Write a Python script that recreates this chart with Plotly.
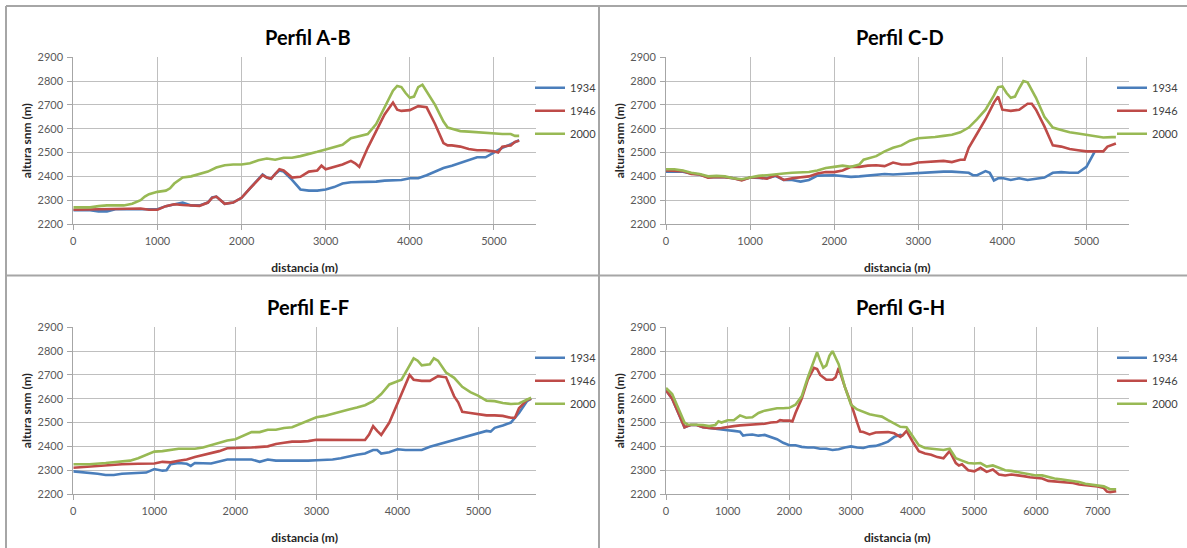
import plotly.graph_objects as go

# ---------------- data (distance m, altitude m) ----------------
SERIES_NAMES = ["1934", "1946", "2000"]
PANEL_TITLES = ["Perfil A-B", "Perfil C-D", "Perfil E-F", "Perfil G-H"]
X_MAX = [5500, 5500, 5710, 7500]
Y_TICKS = [2200, 2300, 2400, 2500, 2600, 2700, 2800, 2900]

AB_1934 = [(0,2258),(200,2258),(300,2253),(400,2253),(500,2262),(1000,2262),(1100,2275),(1200,2283),(1300,2290),(1400,2278),(1500,2278),(1600,2290),(1650,2312),(1700,2315),(1750,2300),(1800,2285),(1900,2290),(2000,2310),(2100,2350),(2200,2390),(2250,2408),(2300,2395),(2350,2390),(2400,2410),(2450,2425),(2500,2420),(2600,2385),(2700,2345),(2800,2340),(2900,2340),(3000,2345),(3100,2355),(3200,2370),(3300,2375),(3400,2375),(3500,2375),(3600,2378),(3700,2382),(3800,2383),(3900,2385),(4000,2392),(4100,2392),(4200,2405),(4300,2420),(4400,2435),(4500,2445),(4600,2457),(4700,2468),(4800,2480),(4900,2480),(5000,2500),(5100,2520),(5200,2535),(5300,2552)]
AB_1946 = [(0,2260),(500,2262),(800,2265),(900,2260),(1000,2260),(1100,2275),(1200,2283),(1300,2280),(1400,2277),(1500,2276),(1600,2290),(1650,2310),(1700,2315),(1750,2300),(1800,2285),(1900,2290),(2000,2310),(2100,2350),(2200,2385),(2250,2405),(2300,2395),(2350,2390),(2400,2410),(2450,2430),(2500,2425),(2600,2395),(2700,2398),(2800,2420),(2900,2425),(2950,2445),(3000,2430),(3100,2440),(3200,2450),(3300,2465),(3350,2455),(3400,2440),(3500,2520),(3600,2590),(3700,2660),(3800,2710),(3850,2680),(3900,2675),(4000,2678),(4100,2695),(4200,2690),(4300,2620),(4400,2540),(4450,2530),(4500,2530),(4600,2525),(4700,2515),(4800,2510),(4900,2510),(5000,2505),(5050,2500),(5100,2525),(5200,2530),(5250,2545),(5300,2550)]
AB_2000 = [(0,2270),(200,2270),(300,2275),(400,2278),(600,2278),(700,2285),(800,2300),(850,2315),(900,2325),(1000,2335),(1100,2340),(1150,2350),(1200,2370),(1300,2395),(1400,2400),(1500,2410),(1600,2420),(1700,2437),(1800,2447),(1900,2450),(2000,2450),(2100,2455),(2200,2468),(2300,2475),(2400,2470),(2500,2478),(2600,2478),(2700,2485),(2800,2493),(2900,2503),(3000,2513),(3100,2522),(3200,2533),(3300,2560),(3400,2570),(3500,2578),(3600,2620),(3700,2690),(3800,2760),(3850,2780),(3900,2775),(3950,2750),(4000,2730),(4050,2735),(4100,2775),(4150,2785),(4200,2755),(4300,2700),(4400,2630),(4450,2605),(4500,2600),(4600,2590),(4700,2588),(4800,2585),(4900,2582),(5000,2580),(5100,2578),(5200,2578),(5250,2570),(5300,2570)]

CD_1934 = [(0,2420),(200,2420),(300,2412),(400,2408),(500,2396),(600,2398),(700,2397),(800,2392),(900,2385),(1000,2395),(1100,2395),(1200,2392),(1300,2402),(1400,2385),(1500,2385),(1600,2378),(1700,2385),(1800,2403),(2000,2405),(2100,2400),(2200,2398),(2300,2400),(2400,2403),(2500,2408),(2600,2410),(2700,2408),(2800,2410),(2900,2415),(3000,2415),(3100,2418),(3200,2418),(3300,2420),(3400,2420),(3500,2418),(3600,2415),(3650,2405),(3700,2405),(3800,2422),(3850,2415),(3900,2383),(3950,2392),(4000,2393),(4100,2385),(4200,2392),(4300,2385),(4400,2390),(4500,2395),(4600,2415),(4700,2418),(4800,2415),(4900,2415),(5000,2440),(5050,2475),(5100,2505)]
CD_1946 = [(0,2425),(200,2422),(300,2410),(400,2408),(500,2395),(600,2398),(700,2397),(800,2392),(900,2383),(1000,2395),(1100,2395),(1200,2390),(1300,2405),(1400,2385),(1500,2392),(1600,2395),(1700,2400),(1800,2412),(1900,2418),(2000,2418),(2100,2425),(2200,2440),(2300,2440),(2400,2445),(2500,2447),(2600,2443),(2700,2458),(2800,2450),(2900,2450),(3000,2458),(3100,2460),(3200,2465),(3300,2465),(3400,2460),(3500,2470),(3550,2470),(3600,2520),(3700,2580),(3800,2640),(3900,2710),(3950,2735),(4000,2680),(4100,2675),(4200,2680),(4300,2705),(4350,2705),(4400,2680),(4500,2610),(4600,2530),(4700,2525),(4800,2515),(4900,2510),(5000,2505),(5100,2505),(5200,2505),(5250,2525),(5350,2538)]
CD_2000 = [(0,2430),(100,2430),(200,2425),(300,2415),(400,2410),(500,2400),(600,2402),(700,2400),(800,2392),(900,2388),(1000,2395),(1100,2402),(1200,2405),(1300,2410),(1400,2412),(1500,2415),(1600,2416),(1700,2418),(1800,2425),(1900,2435),(2000,2440),(2100,2445),(2200,2440),(2300,2450),(2350,2470),(2400,2475),(2500,2485),(2600,2505),(2700,2520),(2800,2530),(2900,2550),(3000,2560),(3100,2562),(3200,2565),(3300,2570),(3400,2575),(3500,2585),(3600,2605),(3700,2640),(3800,2680),(3900,2740),(3950,2775),(4000,2778),(4050,2750),(4100,2730),(4150,2735),(4200,2770),(4250,2800),(4300,2795),(4400,2730),(4500,2650),(4600,2605),(4700,2595),(4800,2585),(4900,2580),(5000,2575),(5100,2570),(5200,2563),(5300,2565),(5350,2565)]

EF_1934 = [(0,2295),(200,2290),(300,2285),(400,2280),(500,2280),(600,2285),(700,2287),(800,2287),(900,2290),(1000,2305),(1100,2298),(1150,2300),(1200,2325),(1300,2330),(1400,2327),(1450,2318),(1500,2330),(1700,2328),(1800,2335),(1900,2345),(2000,2345),(2200,2345),(2300,2335),(2400,2345),(2500,2340),(2600,2340),(2700,2338),(2800,2340),(2900,2340),(3000,2342),(3200,2345),(3300,2350),(3400,2358),(3500,2365),(3600,2370),(3700,2385),(3750,2385),(3800,2370),(3900,2375),(4000,2388),(4100,2385),(4200,2385),(4300,2385),(4400,2398),(4500,2408),(4600,2418),(4700,2428),(4800,2438),(4900,2447),(5000,2457),(5100,2465),(5150,2462),(5200,2478),(5300,2488),(5400,2500),(5500,2540),(5600,2590),(5650,2600)]
EF_1946 = [(0,2310),(200,2315),(400,2320),(500,2325),(600,2325),(800,2327),(1000,2328),(1100,2335),(1200,2333),(1300,2340),(1400,2345),(1500,2355),(1600,2363),(1700,2372),(1800,2380),(1900,2392),(2000,2392),(2200,2395),(2400,2400),(2500,2410),(2600,2415),(2700,2420),(2800,2420),(2900,2422),(3000,2428),(3200,2428),(3300,2430),(3400,2427),(3600,2427),(3650,2450),(3700,2485),(3750,2465),(3800,2448),(3900,2500),(4000,2580),(4100,2660),(4150,2700),(4200,2680),(4300,2675),(4400,2675),(4500,2695),(4600,2690),(4700,2610),(4750,2585),(4800,2545),(4900,2540),(5000,2535),(5100,2530),(5200,2530),(5300,2528),(5400,2520),(5450,2520),(5500,2560),(5600,2595),(5650,2600)]
EF_2000 = [(0,2325),(200,2325),(400,2330),(600,2335),(700,2340),(800,2350),(900,2365),(1000,2378),(1100,2380),(1200,2385),(1300,2390),(1400,2390),(1500,2390),(1600,2395),(1700,2405),(1800,2415),(1900,2425),(2000,2430),(2100,2445),(2200,2460),(2300,2460),(2400,2470),(2500,2470),(2600,2477),(2700,2480),(2800,2495),(2900,2510),(3000,2522),(3100,2528),(3200,2538),(3300,2548),(3400,2555),(3500,2563),(3600,2573),(3700,2590),(3800,2620),(3900,2660),(4000,2675),(4050,2680),(4100,2710),(4200,2770),(4250,2760),(4300,2740),(4400,2745),(4450,2770),(4500,2760),(4600,2710),(4700,2688),(4800,2650),(4900,2628),(5000,2612),(5100,2592),(5200,2590),(5300,2582),(5400,2578),(5500,2580),(5600,2595),(5650,2605)]

GH_1934 = [(0,2635),(100,2600),(200,2540),(300,2480),(350,2485),(400,2490),(500,2490),(600,2480),(700,2477),(800,2475),(900,2472),(1000,2468),(1100,2465),(1200,2462),(1250,2445),(1300,2448),(1400,2450),(1500,2445),(1600,2448),(1700,2440),(1800,2430),(1900,2415),(2000,2405),(2100,2405),(2200,2398),(2300,2395),(2400,2395),(2500,2390),(2600,2390),(2700,2385),(2800,2388),(2900,2395),(3000,2400),(3100,2395),(3200,2393),(3300,2400),(3400,2402),(3500,2410),(3600,2420),(3700,2440),(3800,2448),(3850,2445)]
GH_1946 = [(0,2635),(100,2600),(200,2540),(300,2480),(350,2485),(400,2490),(500,2490),(600,2480),(700,2477),(800,2475),(900,2477),(1000,2482),(1100,2485),(1200,2488),(1300,2490),(1400,2490),(1500,2492),(1600,2495),(1700,2500),(1800,2502),(1850,2510),(1900,2508),(2000,2508),(2050,2505),(2100,2540),(2200,2600),(2300,2680),(2400,2730),(2450,2725),(2500,2700),(2600,2680),(2700,2680),(2750,2690),(2800,2730),(2900,2650),(3000,2580),(3100,2500),(3150,2462),(3200,2460),(3300,2450),(3400,2458),(3500,2460),(3600,2460),(3700,2455),(3800,2440),(3850,2450),(3900,2465),(4000,2420),(4100,2380),(4200,2370),(4300,2365),(4400,2355),(4500,2350),(4550,2365),(4600,2380),(4700,2330),(4750,2320),(4800,2325),(4900,2300),(5000,2295),(5100,2310),(5200,2293),(5300,2303),(5400,2282),(5500,2278),(5600,2282),(5700,2280),(5800,2275),(5900,2270),(6000,2268),(6100,2265),(6200,2255),(6300,2253),(6400,2250),(6500,2248),(6600,2246),(6700,2240),(6800,2237),(6900,2235),(7000,2232),(7100,2225),(7150,2210),(7200,2208),(7300,2212)]
GH_2000 = [(0,2645),(100,2620),(200,2560),(300,2500),(350,2492),(500,2492),(600,2490),(700,2485),(800,2490),(850,2505),(900,2500),(1000,2510),(1100,2510),(1200,2530),(1300,2520),(1400,2522),(1500,2540),(1600,2550),(1700,2555),(1800,2560),(1900,2560),(2000,2562),(2100,2575),(2200,2610),(2300,2690),(2400,2760),(2450,2795),(2500,2760),(2550,2730),(2600,2740),(2650,2780),(2700,2800),(2800,2745),(2900,2650),(3000,2575),(3100,2555),(3200,2545),(3300,2535),(3400,2530),(3500,2525),(3600,2510),(3700,2495),(3800,2482),(3900,2480),(4000,2440),(4100,2405),(4200,2393),(4300,2390),(4400,2388),(4500,2385),(4600,2390),(4700,2350),(4800,2340),(4900,2330),(5000,2328),(5100,2330),(5200,2315),(5300,2320),(5400,2310),(5500,2300),(5600,2297),(5700,2292),(5800,2285),(5900,2280),(6000,2278),(6100,2278),(6200,2270),(6300,2265),(6400,2262),(6500,2258),(6600,2256),(6700,2250),(6800,2243),(6900,2240),(7000,2237),(7100,2232),(7200,2220),(7300,2220)]

PANEL_DATA = [
    (AB_1934, AB_1946, AB_2000),
    (CD_1934, CD_1946, CD_2000),
    (EF_1934, EF_1946, EF_2000),
    (GH_1934, GH_1946, GH_2000),
]

# ---------------- styling / layout ----------------
W, H = 1187, 548
COLORS = ["#4A7EBB", "#BE4B48", "#98B954"]
FONT = "Lato, 'Open Sans', sans-serif"
GRID = "#BFBFBF"
AXLINE = "#A6A6A6"
TICKC = "#595959"

# plot-area pixel boxes: (left, right, top, bottom)
BOXES = [(73.3, 536.0, 57.3, 224.0), (666.0, 1128.5, 57.3, 224.0),
         (73.3, 536.0, 327.3, 494.0), (666.0, 1128.5, 327.3, 494.0)]

fig = go.Figure()
layout = dict(width=W, height=H, margin=dict(l=0, r=0, t=0, b=0, autoexpand=False),
              paper_bgcolor="white", plot_bgcolor="white",
              font=dict(family=FONT, color=TICKC), annotations=[], shapes=[])

for i, (title, series) in enumerate(zip(PANEL_TITLES, PANEL_DATA)):
    k = "" if i == 0 else str(i + 1)
    xa, ya, lg = "x" + k, "y" + k, "legend" + k
    for name, pts, col in zip(SERIES_NAMES, series, COLORS):
        xs = [p[0] for p in pts]
        ys = [p[1] for p in pts]
        fig.add_trace(go.Scatter(x=xs, y=ys, mode="lines", name=name,
                                 line=dict(color=col, width=2.6),
                                 xaxis=xa, yaxis=ya, legend=lg,
                                 legendgroup=f"{i}-{name}", showlegend=True))
    l, r, t, b = BOXES[i]
    layout["xaxis" + k] = dict(
        domain=[l / W, r / W], anchor=ya, range=[0, X_MAX[i]], dtick=1000,
        automargin=False,
        showgrid=True, gridcolor=GRID, gridwidth=1, zeroline=False,
        showline=True, linecolor=AXLINE, linewidth=1,
        ticks="outside", ticklen=5, tickcolor=AXLINE, ticklabelstandoff=2,
        tickfont=dict(size=11, color=TICKC, family=FONT),
        title=dict(text="<b>distancia (m)</b>", standoff=17,
                   font=dict(size=12, color="#262626", family=FONT)))
    layout["yaxis" + k] = dict(
        domain=[1 - b / H, 1 - t / H], anchor=xa, range=[2200, 2900],
        tickvals=Y_TICKS, automargin=False,
        showgrid=True, gridcolor=GRID, gridwidth=1, zeroline=False,
        showline=True, linecolor=AXLINE, linewidth=1,
        ticks="outside", ticklen=5, tickcolor=AXLINE, ticklabelstandoff=2,
        tickfont=dict(size=11, color=TICKC, family=FONT),
        title=dict(text="<b>altura snm (m)</b>", standoff=3,
                   font=dict(size=12, color="#262626", family=FONT)))
    # panel title
    cx = (l + r) / 2 + 3
    layout["annotations"].append(dict(
        text=f"<b>{title}</b>", xref="paper", yref="paper",
        x=cx / W, y=1 - (t - 20) / H, xanchor="center", yanchor="middle",
        showarrow=False, font=dict(size=20, color="#000000", family=FONT)))
    # legend
    lx = 530 if i % 2 == 0 else 1112
    layout[lg] = dict(x=lx / W, y=1 - (t + 16) / H, xanchor="left", yanchor="top",
                      xref="paper", yref="paper", bgcolor="rgba(0,0,0,0)",
                      traceorder="grouped", tracegroupgap=4,
                      font=dict(size=11, color="#404040", family=FONT))

# panel frame lines
FRAME = "#A6A6A6"
for (x0, y0, x1, y1) in [(6, 6, W, 6), (6, 6, 6, H), (599, 6, 599, H), (6, 275.5, W, 275.5)]:
    layout["shapes"].append(dict(type="line", xref="paper", yref="paper",
                                 x0=x0 / W, x1=x1 / W, y0=1 - y0 / H, y1=1 - y1 / H,
                                 line=dict(color=FRAME, width=2)))

fig.update_layout(**layout)
fig.write_html("out.html", config={"displayModeBar": False},
               post_script="document.body.style.margin='0px';document.body.style.overflow='hidden';")
